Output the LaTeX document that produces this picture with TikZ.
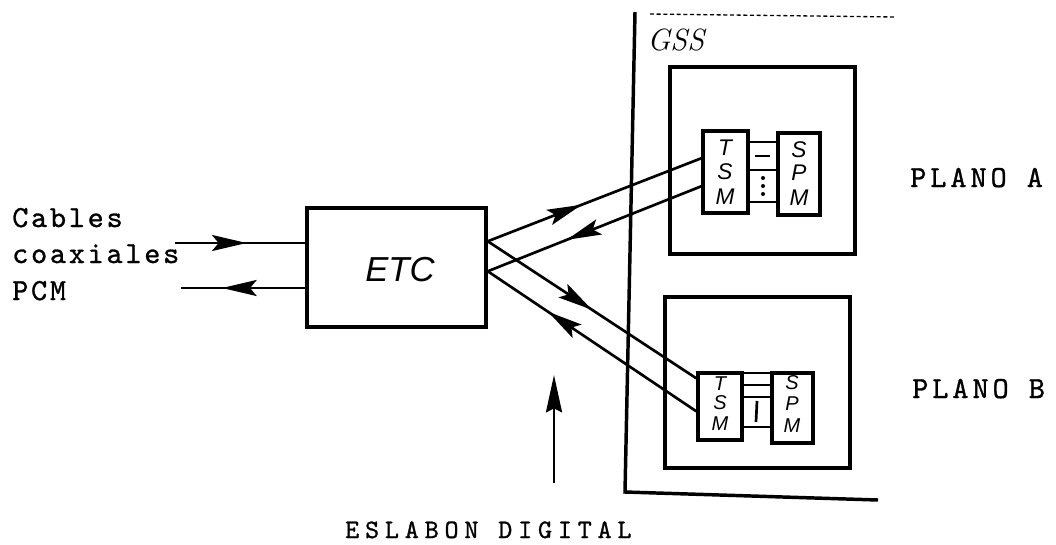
\documentclass[tikz,border=0pt]{standalone}
\usepackage{fontspec}
\usetikzlibrary{arrows.meta,decorations.markings,fit}
\newfontfamily\handf{Liberation Sans}
\newfontfamily\ttA[LetterSpace=9,FakeBold=1]{lmmono10-regular.otf}
\newfontfamily\ttB[LetterSpace=13,FakeBold=1]{lmmono10-regular.otf}
\newfontfamily\ttC[LetterSpace=22,FakeBold=1]{lmmono10-regular.otf}
\tikzset{
  box/.style={draw, line width=2.6pt, inner sep=0pt},
  wire/.style={line width=2pt},
  fwd/.style={postaction=decorate, decoration={markings, mark=at position #1 with {\arrow{Stealth[length=26pt,width=12pt,inset=5pt]}}}},
  bwd/.style={postaction=decorate, decoration={markings, mark=at position #1 with {\arrowreversed{Stealth[length=26pt,width=12pt,inset=5pt]}}}},
  lblA/.style={font=\ttA\fontsize{23}{23}\selectfont, inner sep=0pt, anchor=base west},
  lblB/.style={font=\ttB\fontsize{23}{23}\selectfont, inner sep=0pt, anchor=base west},
  lblC/.style={font=\ttC\fontsize{20}{20}\selectfont, inner sep=0pt, anchor=base west},
  letter/.style={font=\handf\itshape\fontsize{17}{17}\selectfont, inner sep=0pt},
  letterb/.style={font=\handf\itshape\fontsize{15}{15}\selectfont, inner sep=0pt},
}
\begin{document}
\begin{tikzpicture}[x=0.75pt,y=-0.75pt]
\useasboundingbox (0,0) rectangle (1056,544);
% GSS frame
\coordinate (g1) at (635,12);
\coordinate (g2) at (625,492);
\coordinate (g3) at (878,500);
\coordinate (t1) at (650,14);
\coordinate (t2) at (895,17);
\draw[line width=2.6pt] (g1) -- (g2) -- (g3);
\draw[line width=1pt, densely dashed] (t1) -- (t2);
\node[font=\itshape\fontsize{23}{23}\selectfont, inner sep=0pt, anchor=base west] (gss) at (647,50) {GSS};
% planes
\node[box, fit={(670,67)(855,254)}] (pa) {};
\node[box, fit={(665,297)(850,468)}] (pb) {};
% plane A modules
\node[box, fit={(703,131)(748,213)}] (tsma) {};
\node[box, fit={(778,133)(820,215)}] (spma) {};
\node[box, line width=2pt, fit={(748,142)(778,202)}] (lka) {};
\draw[line width=2pt] (748,170) -- (778,170);
\draw[line width=1.6pt] (755,156) -- (770,156);
\foreach \yy in {178,186,194} \fill (763,\yy) circle (1.5pt);
\node[letter] (ta1) at (725,148) {T};
\node[letter] (ta2) at (725,172) {S};
\node[letter] (ta3) at (725,197) {M};
\node[letter] (sa1) at (799,150) {S};
\node[letter] (sa2) at (799,173) {P};
\node[letter] (sa3) at (799,198) {M};
% plane B modules
\node[box, fit={(698,373)(742,440)}] (tsmb) {};
\node[box, fit={(772,373)(813,443)}] (spmb) {};
\node[box, line width=2pt, fit={(742,373)(772,427)}] (lkb) {};
\draw[line width=2pt] (742,385) -- (772,385);
\draw[line width=2pt] (742,397) -- (772,397);
\draw[line width=2pt] (757,401) -- (756,422);
\node[letterb] (tb1) at (720,384) {T};
\node[letterb] (tb2) at (720,403) {S};
\node[letterb] (tb3) at (720,424) {M};
\node[letterb] (sb1) at (792,383) {S};
\node[letterb] (sb2) at (792,404) {P};
\node[letterb] (sb3) at (792,426) {M};
% ETC
\node[box, fit={(307,208)(486,327)}] (etc) {};
\node[font=\handf\itshape\fontsize{26}{26}\selectfont] (etct) at (400,270) {ETC};
% connection points
\path (etc.north east) ++(0,35) coordinate (e1);
\path (etc.north east) ++(0,65) coordinate (e2);
\path (tsma.north west) ++(0,29) coordinate (a1);
\path (tsma.north west) ++(0,57) coordinate (a2);
\path (tsmb.north west) ++(0,7) coordinate (b1);
\path (tsmb.north west) ++(0,40) coordinate (b2);
\draw[wire, fwd=0.44] (e1) -- (a1);
\draw[wire, bwd=0.37] (e2) -- (a2);
\draw[wire, fwd=0.50] (e1) -- (b1);
\draw[wire, bwd=0.29] (e2) -- (b2);
% coax cables
\coordinate (cin) at (175,243);
\coordinate (cout) at (181,288);
\draw[wire, fwd=0.55] (cin) -- (etc.west |- cin);
\draw[wire, fwd=0.67] (etc.west |- cout) -- (cout);
% digital link arrow
\coordinate (vb) at (554,483);
\coordinate (vt) at (554,375);
\draw[wire, -{Stealth[length=28pt,width=12pt,inset=3pt]}] (vb) -- (vt);
% labels
\node[lblA] (l1) at (12,227) {Cables};
\node[lblA] (l2) at (12,263) {coaxiales};
\node[lblA] (l3) at (12,300) {PCM};
\node[lblB] (pla) at (910,187) {PLANO A};
\node[lblB] (plb) at (912,398) {PLANO B};
\node[lblC] (esl) at (345,538) {ESLABON DIGITAL};
\end{tikzpicture}
\end{document}
